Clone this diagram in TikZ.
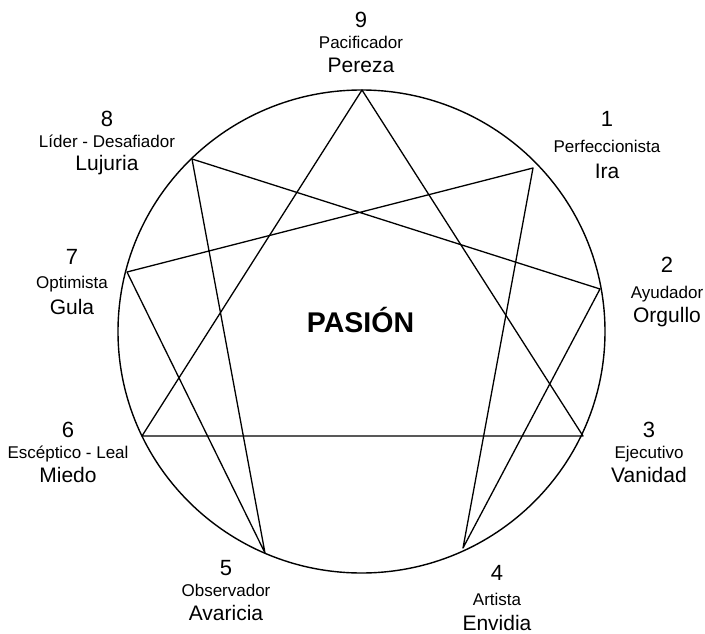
\documentclass[tikz,border=0pt]{standalone}
\usepackage{fontspec}
\setmainfont{Liberation Sans}
\usepackage{tikz}
\usetikzlibrary{calc,positioning}

\begin{document}
\begin{tikzpicture}[
    x=1pt, y=-1pt,
    num/.style={anchor=base, inner sep=0pt, font=\fontsize{22}{26}\selectfont},
    rol/.style={anchor=base, inner sep=0pt, font=\fontsize{17}{20}\selectfont},
    pasion/.style={anchor=base, inner sep=0pt, font=\fontsize{21}{24}\selectfont},
    titulo/.style={anchor=base, inner sep=0pt, font=\fontsize{28.5}{32}\selectfont\bfseries},
    linea/.style={line width=1.3pt, line join=round}
]
\useasboundingbox (0,0) rectangle (705,634);

% ================= CIRCLE & POINTS =================
\coordinate (C) at (361.5,331.5);
\draw[line width=1.4pt] (C) ellipse [x radius=243.5, y radius=241.5];

\coordinate (P9) at (362,90);
\coordinate (P1) at (533,168);
\coordinate (P2) at (600,289);
\coordinate (P3) at (583,436);
\coordinate (P4) at (463,548);
\coordinate (P5) at (265,553);
\coordinate (P6) at (142,436);
\coordinate (P7) at (127,272);
\coordinate (P8) at (192,159);

% ================= LINES =================
\draw[linea] (P9) -- (P3) -- (P6) -- cycle;
\draw[linea] (P1) -- (P4) -- (P2) -- (P8) -- (P5) -- (P7) -- cycle;

% ================= LABELS =================
\node[titulo] (Pasion) at (360.5,332) {PASIÓN};

\node[num] (N9) at (361,28) {9};
\node[rol] (R9) at (361,49) {Pacificador};
\node[pasion] (S9) at (361,73) {Pereza};

\node[num] (N1) at (607,127) {1};
\node[rol] (R1) at (607,152) {Perfeccionista};
\node[pasion] (S1) at (607,178) {Ira};

\node[num] (N2) at (667,272) {2};
\node[rol] (R2) at (667,298) {Ayudador};
\node[pasion] (S2) at (667,322) {Orgullo};

\node[num] (N3) at (649,437) {3};
\node[rol] (R3) at (649,458) {Ejecutivo};
\node[pasion] (S3) at (649,482) {Vanidad};

\node[num] (N4) at (497,580) {4};
\node[rol] (R4) at (497,605) {Artista};
\node[pasion] (S4) at (497,630) {Envidia};

\node[num] (N5) at (226,575) {5};
\node[rol] (R5) at (226,596) {Observador};
\node[pasion] (S5) at (226,620) {Avaricia};

\node[num] (N6) at (68,437) {6};
\node[rol] (R6) at (68,458) {Escéptico - Leal};
\node[pasion] (S6) at (68,482) {Miedo};

\node[num] (N7) at (72,264) {7};
\node[rol] (R7) at (72,288) {Optimista};
\node[pasion] (S7) at (72,314) {Gula};

\node[num] (N8) at (107,126) {8};
\node[rol] (R8) at (107,147) {Líder - Desafiador};
\node[pasion] (S8) at (107,171) {Lujuria};

\end{tikzpicture}
\end{document}
